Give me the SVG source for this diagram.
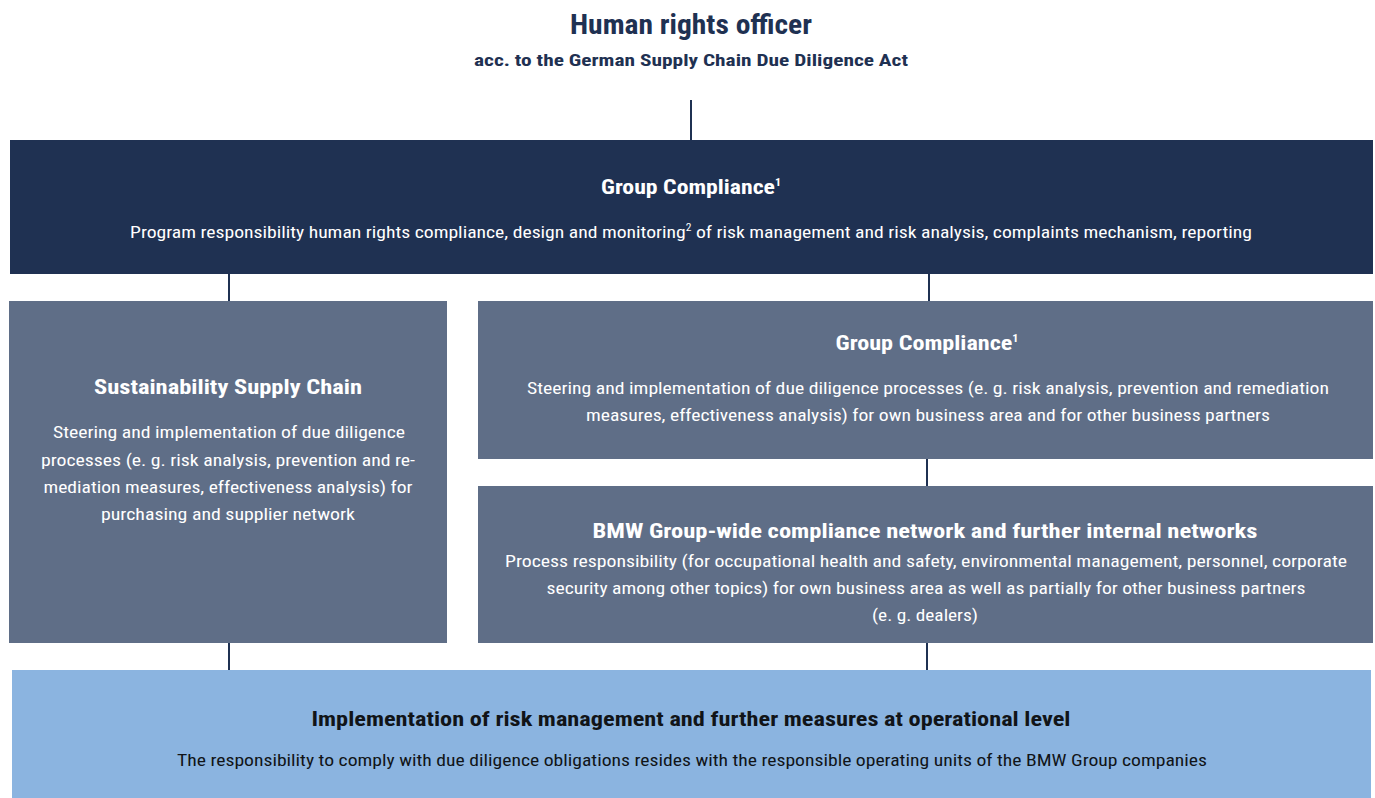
<svg xmlns="http://www.w3.org/2000/svg" width="1375" height="798" viewBox="0 0 1375 798">
<style>
text{font-family:"Liberation Sans Narrow","Roboto Condensed","Liberation Sans",Arial,sans-serif;text-anchor:middle}
.h{font-weight:bold}
.w{fill:#ffffff}
.k{fill:#111418}
.n{fill:#1f3152}
.t{font-size:20px}
.b{font-size:17px}
.sup{font-size:10px}
.conn line{stroke:#1f3152;stroke-width:2}
</style>
<rect width="1375" height="798" fill="#ffffff"/>
<g id="officer">
<text class="h n" x="691" y="34" font-size="28" textLength="242" lengthAdjust="spacingAndGlyphs">Human rights officer</text>
<text class="h n" x="691" y="66" font-size="17" textLength="434" lengthAdjust="spacingAndGlyphs">acc. to the German Supply Chain Due Diligence Act</text>
</g>
<g class="conn" id="connectors">
<line x1="691" y1="100" x2="691" y2="140"/>
<line x1="229" y1="274" x2="229" y2="301"/>
<line x1="929" y1="274" x2="929" y2="301"/>
<line x1="927" y1="459" x2="927" y2="486"/>
<line x1="229" y1="643" x2="229" y2="670"/>
<line x1="927" y1="643" x2="927" y2="670"/>
</g>
<g id="group-compliance-top">
<rect x="10" y="140" width="1363" height="134" fill="#1f3152"/>
<text class="h w t" x="691" y="194" textLength="180" lengthAdjust="spacingAndGlyphs">Group Compliance<tspan class="sup" dy="-8">1</tspan></text>
<text class="w b" x="691" y="238" textLength="1122" lengthAdjust="spacingAndGlyphs">Program responsibility human rights compliance, design and monitoring<tspan class="sup" dy="-7">2</tspan><tspan dy="7"> of risk management and risk analysis, complaints mechanism, reporting</tspan></text>
</g>
<g id="sustainability">
<rect x="9" y="301" width="438" height="342" fill="#5f6e87"/>
<text class="h w t" x="228" y="394" textLength="268" lengthAdjust="spacingAndGlyphs">Sustainability Supply Chain</text>
<text class="w b" x="229" y="438" textLength="352" lengthAdjust="spacingAndGlyphs">Steering and implementation of due diligence</text>
<text class="w b" x="228" y="466" textLength="374" lengthAdjust="spacingAndGlyphs">processes (e. g. risk analysis, prevention and re-</text>
<text class="w b" x="228" y="493" textLength="369" lengthAdjust="spacingAndGlyphs">mediation measures, effectiveness analysis) for</text>
<text class="w b" x="228" y="520" textLength="254" lengthAdjust="spacingAndGlyphs">purchasing and supplier network</text>
</g>
<g id="group-compliance-right">
<rect x="478" y="301" width="895" height="158" fill="#5f6e87"/>
<text class="h w t" x="927" y="350" textLength="183" lengthAdjust="spacingAndGlyphs">Group Compliance<tspan class="sup" dy="-8">1</tspan></text>
<text class="w b" x="928" y="394" textLength="802" lengthAdjust="spacingAndGlyphs">Steering and implementation of due diligence processes (e. g. risk analysis, prevention and remediation</text>
<text class="w b" x="928" y="421" textLength="684" lengthAdjust="spacingAndGlyphs">measures, effectiveness analysis) for own business area and for other business partners</text>
</g>
<g id="bmw-network">
<rect x="478" y="486" width="895" height="157" fill="#5f6e87"/>
<text class="h w t" x="925" y="538" textLength="665" lengthAdjust="spacingAndGlyphs">BMW Group-wide compliance network and further internal networks</text>
<text class="w b" x="926" y="567" textLength="842" lengthAdjust="spacingAndGlyphs">Process responsibility (for occupational health and safety, environmental management, personnel, corporate</text>
<text class="w b" x="926" y="594" textLength="759" lengthAdjust="spacingAndGlyphs">security among other topics) for own business area as well as partially for other business partners</text>
<text class="w b" x="925" y="621" textLength="106" lengthAdjust="spacingAndGlyphs">(e. g. dealers)</text>
</g>
<g id="operational">
<rect x="12" y="670" width="1359" height="128" fill="#8bb4e0"/>
<text class="h k t" x="691" y="726" textLength="759" lengthAdjust="spacingAndGlyphs">Implementation of risk management and further measures at operational level</text>
<text class="k b" x="692" y="766" textLength="1030" lengthAdjust="spacingAndGlyphs">The responsibility to comply with due diligence obligations resides with the responsible operating units of the BMW Group companies</text>
</g>
</svg>
